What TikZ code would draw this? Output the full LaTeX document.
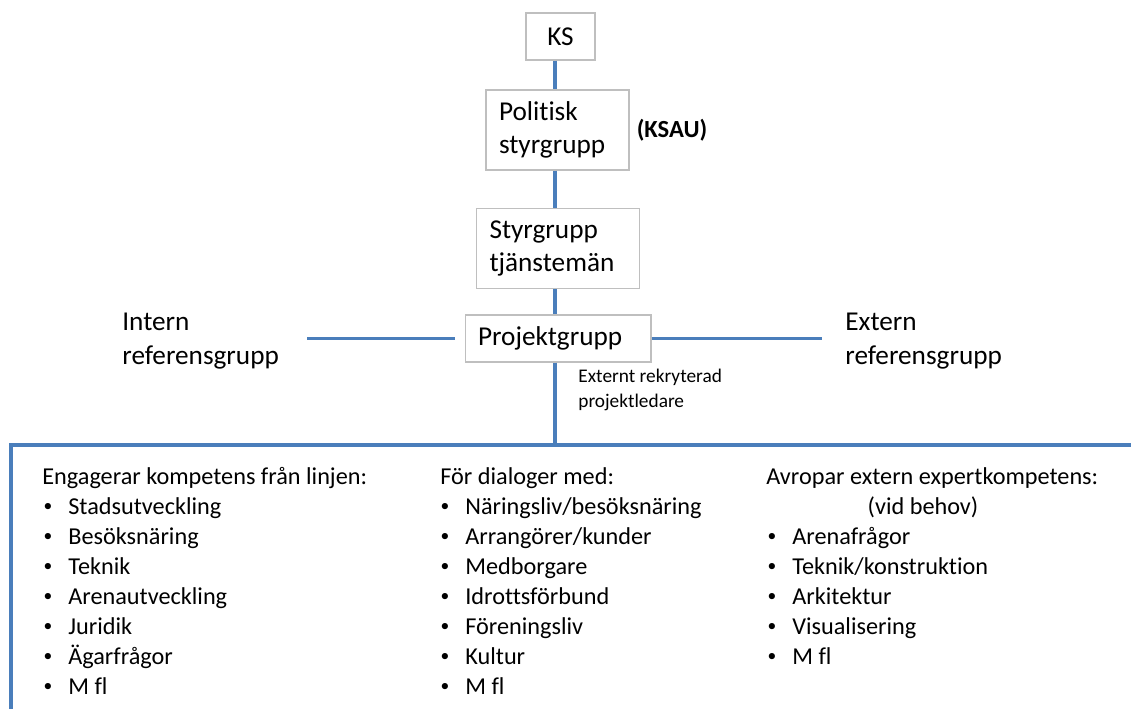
\documentclass[tikz,border=0pt]{standalone}
\usepackage{fontspec}
\setmainfont{Carlito}[Ligatures=NoCommon]
\definecolor{orgblue}{HTML}{4A7EBB}
\definecolor{boxgray}{HTML}{BFBFBF}
\tikzset{
  box/.style={draw=boxgray, line width=0.6pt, inner xsep=0.26cm, align=left,
    minimum height=0.94cm, font=\fontsize{15.5}{19}\selectfont},
  conn/.style={draw=orgblue, line width=2pt},
  lbl/.style={align=left, anchor=west, inner sep=0pt, font=\fontsize{15.5}{19}\selectfont},
  item/.style={anchor=west, inner sep=0pt, text height=1.6ex, text depth=0.45ex,
    font=\fontsize{13.8}{17}\selectfont},
  bul/.style={anchor=center, inner sep=0pt, font=\fontsize{10}{12}\selectfont}
}
\begin{document}
\begin{tikzpicture}[x=0.02cm, y=-0.02cm]
  \useasboundingbox (0,0) rectangle (1131,709);
  % styrning
  \node[box, minimum width=1.38cm] (ks) at (560.5,36.5) {KS};
  \node[box, text width=2.34cm, minimum height=1.6cm] (pol) at (557.5,130) {Politisk\\styrgrupp};
  \node[font=\bfseries\fontsize{14}{17}\selectfont] (ksau) at (672,130) {(KSAU)};
  \node[box, text width=2.74cm, minimum height=1.6cm] (sty) at (558,248.5) {Styrgrupp\\tjänstemän};
  \node[box, text width=3.2cm] (proj) at (558,338.5) {Projektgrupp};
  \coordinate (spine) at (555,0);
  \draw[conn] (spine |- ks.south) -- (spine |- pol.north);
  \draw[conn] (spine |- pol.south) -- (spine |- sty.north);
  \draw[conn] (spine |- sty.south) -- (spine |- proj.north);
  % referensgrupper
  \node[lbl] (intern) at (122,341) {Intern\\referensgrupp};
  \node[lbl] (extern) at (845,341) {Extern\\referensgrupp};
  \coordinate (il) at (307,341);
  \coordinate (er) at (822,341);
  \draw[conn] (proj.west -| il) -- ([xshift=-0.2cm]proj.west);
  \draw[conn] (proj.east) -- (proj.east -| er);
  \node[font=\fontsize{11}{14}\selectfont, align=left, anchor=north west, inner sep=0pt]
    (pl) at (578,369) {Externt rekryterad\\projektledare};
  % ram nedtill
  \coordinate (bl) at (11,445);
  \coordinate (br) at (1131,445);
  \coordinate (bb) at (11,709);
  \draw[conn] (spine |- proj.south) -- (spine |- bl);
  \draw[conn] (bb) -- (bl) -- (br);
  % kolumner
  \node[item] (h1) at (42,480) {Engagerar kompetens från linjen:};
  \foreach \t [count=\i] in {Stadsutveckling, Besöksnäring, Teknik, Arenautveckling, Juridik, Ägarfrågor, M fl}{
    \node[bul] (b1-\i) at (48,477+30*\i) {\textbullet};
    \node[item] (c1-\i) at (68,480+30*\i) {\t};
  }
  \node[item] (h2) at (440,480) {För dialoger med:};
  \foreach \t [count=\i] in {Näringsliv/besöksnäring, Arrangörer/kunder, Medborgare, Idrottsförbund, Föreningsliv, Kultur, M fl}{
    \node[bul] (b2-\i) at (445,477+30*\i) {\textbullet};
    \node[item] (c2-\i) at (465,480+30*\i) {\t};
  }
  \node[item] (h3) at (766,480) {Avropar extern expertkompetens:};
  \node[item, anchor=center] (vb) at (923,510) {(vid behov)};
  \foreach \t [count=\i] in {Arenafrågor, Teknik/konstruktion, Arkitektur, Visualisering, M fl}{
    \node[bul] (b3-\i) at (772,507+30*\i) {\textbullet};
    \node[item] (c3-\i) at (792,510+30*\i) {\t};
  }
\end{tikzpicture}
\end{document}
